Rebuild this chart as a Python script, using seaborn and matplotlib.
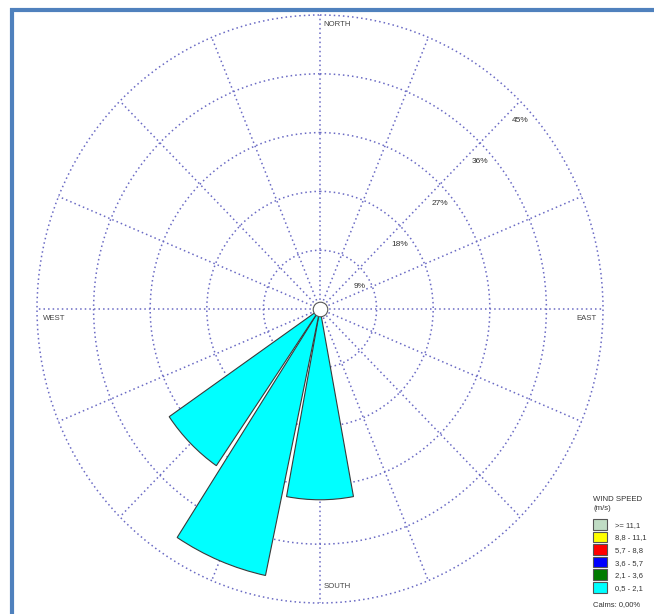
import numpy as np
import matplotlib
matplotlib.use("Agg")
import matplotlib.pyplot as plt
from matplotlib.patches import Patch
from matplotlib.lines import Line2D
import seaborn as sns

# ---- data ----
directions = ['N', 'NNE', 'NE', 'ENE', 'E', 'ESE', 'SE', 'SSE',
              'S', 'SSW', 'SW', 'WSW', 'W', 'WNW', 'NW', 'NNW']
speed_bins = ['0,5 - 2,1', '2,1 - 3,6', '3,6 - 5,7', '5,7 - 8,8', '8,8 - 11,1', '>= 11,1']
bin_colors = ['#00FFFF', '#007A00', '#0000FF', '#FF0000', '#FFFF00', '#C0DCC4']
freq_05_21 = [0, 0, 0, 0, 0, 0, 0, 0, 29.2, 41.7, 29.1, 0, 0, 0, 0, 0]
freq_21_36 = [0] * 16
freq_36_57 = [0] * 16
freq_57_88 = [0] * 16
freq_88_111 = [0] * 16
freq_111 = [0] * 16
ring_ticks = [9, 18, 27, 36, 45]
ring_labels = ['9%', '18%', '27%', '36%', '45%']
calms_text = 'Calms: 0,00%'

sns.set_theme(style='white')
plt.rcParams['font.family'] = ['Liberation Sans', 'DejaVu Sans']

W, H = 654, 614
fig = plt.figure(figsize=(W / 100, H / 100), dpi=100)
fig.patch.set_facecolor('white')
ax = fig.add_axes([37 / W, 11 / H, 566 / W, 588 / H], projection='polar')
ax.set_aspect('auto')
ax.set_theta_zero_location('N')
ax.set_theta_direction(-1)
ax.set_facecolor('white')

theta = np.deg2rad(np.arange(len(directions)) * 22.5)
width = np.deg2rad(21)
series = [freq_05_21, freq_21_36, freq_36_57, freq_57_88, freq_88_111, freq_111]
bottom = np.zeros(len(directions))
for vals, col in zip(series, bin_colors):
    vals = np.asarray(vals, dtype=float)
    m = vals > 0
    if m.any():
        ax.bar(theta[m], vals[m], width=width, bottom=bottom[m], color=col,
               edgecolor='#3a3a3a', linewidth=0.8, zorder=3, align='center')
    bottom += vals

ax.set_ylim(0, 45)
ax.set_rticks(ring_ticks)
ax.set_yticklabels([])
ax.set_xticks(theta)
ax.set_xticklabels([])
ax.grid(True, color='#6a6ac4', linestyle=(0, (1, 2)), linewidth=1.1)
for gl in ax.yaxis.get_gridlines() + ax.xaxis.get_gridlines():
    gl.set_clip_on(False)
ax.spines['polar'].set_visible(False)

# calm circle
ax.scatter([0], [0], s=110, facecolor='white', edgecolor='#555555',
           linewidth=0.8, zorder=6, clip_on=False)

for r, lab in zip(ring_ticks, ring_labels):
    ax.annotate(lab, xy=(np.deg2rad(45), r), xytext=(0, -19),
                textcoords='offset pixels', ha='center', va='center',
                fontsize=6, color='#333333', zorder=7)

txt_kw = dict(textcoords='offset pixels', fontsize=5.6, color='#444444', va='center')
ax.annotate('NORTH', xy=(0, 45), xytext=(3, -9), ha='left', annotation_clip=False, **txt_kw)
ax.annotate('EAST', xy=(np.pi / 2, 45), xytext=(-6, -9), ha='right', annotation_clip=False, **txt_kw)
ax.annotate('WEST', xy=(3 * np.pi / 2, 45), xytext=(6, -9), ha='left', annotation_clip=False, **txt_kw)
ax.annotate('SOUTH', xy=(np.pi, 45), xytext=(4, 17), ha='left', annotation_clip=False, **txt_kw)

# legend (top entry = highest speed)
fig.text(593 / W, 1 - 496 / H, 'WIND SPEED\n(m/s)', fontsize=5.6, color='#333333',
         ha='left', va='top', linespacing=1.45)
handles = [Patch(facecolor=c, edgecolor='#555555', linewidth=0.8)
           for c in bin_colors[::-1]]
leg = fig.legend(handles, speed_bins[::-1],
                 loc='upper left', bbox_to_anchor=(593 / W, 1 - 519 / H),
                 frameon=False, fontsize=5.5,
                 handlelength=1.83, handleheight=1.76, handletextpad=1.0,
                 labelspacing=0.26, borderpad=0, borderaxespad=0)
for t in leg.get_texts():
    t.set_color('#333333')
fig.text(593 / W, 1 - 605 / H, calms_text, fontsize=5.5, color='#333333',
         ha='left', va='center')

# blue frame
frame_col = '#4F81BD'
fig.add_artist(Line2D([10 / W, 1], [1 - 10 / H, 1 - 10 / H], color=frame_col,
                      linewidth=3, solid_capstyle='butt', transform=fig.transFigure))
fig.add_artist(Line2D([11.5 / W, 11.5 / W], [0, 1 - 8 / H], color=frame_col,
                      linewidth=3, solid_capstyle='butt', transform=fig.transFigure))

fig.savefig('out.png', dpi=100)
